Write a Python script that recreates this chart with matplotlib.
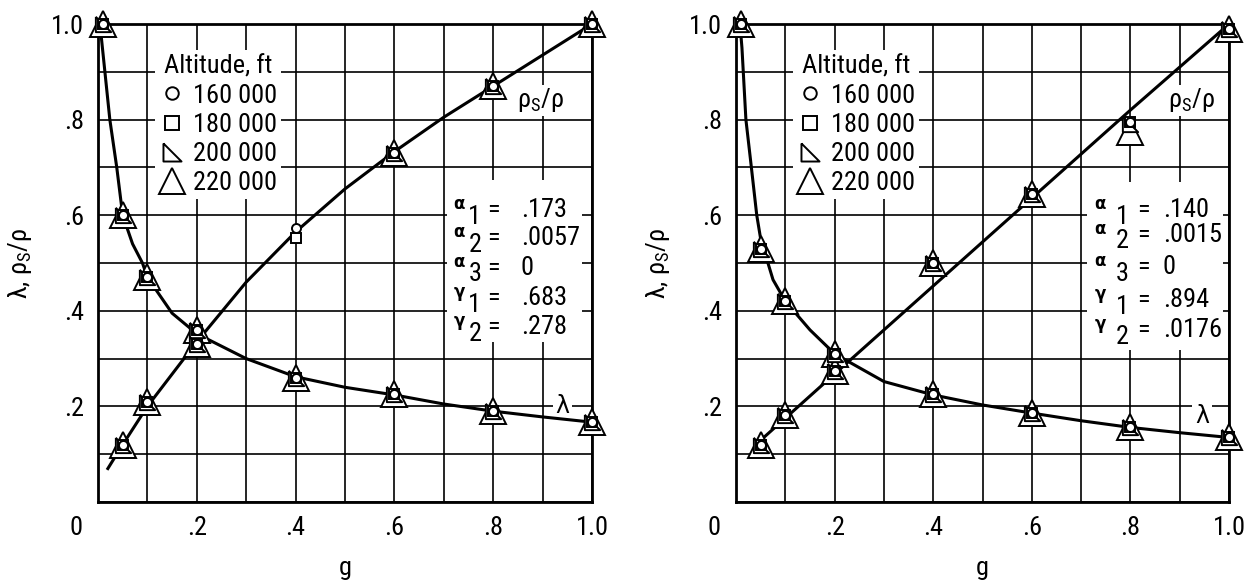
import matplotlib
matplotlib.use("Agg")
import matplotlib.pyplot as plt
from matplotlib import font_manager as fm
from matplotlib.lines import Line2D
from matplotlib.patches import Rectangle
import numpy as np

# pick the narrowest installed family (the original lettering is condensed)
_installed = {f.name: f for f in fm.fontManager.ttflist}
_narrow = [f.name for f in fm.fontManager.ttflist
           if f.stretch in ("condensed", "semi-condensed", "extra-condensed",
                            "ultra-condensed", 600, 500) or "Narrow" in f.name
           or "Condensed" in f.name]
BASE = None
for cand in ["Liberation Sans Narrow", "DejaVu Sans Condensed",
             "Noto Sans Condensed", "Roboto Condensed", "Open Sans Condensed"]:
    if cand in _installed:
        BASE = cand
        break
STRETCH = "normal"
if BASE is None and _narrow:
    BASE = _narrow[0]
    STRETCH = "condensed"
if BASE is None:
    BASE = "Roboto"
NARROW = BASE != "Roboto"
FS = 19 if NARROW else 16

plt.rcParams["font.family"] = [BASE, "DejaVu Sans"]
plt.rcParams["font.stretch"] = STRETCH
plt.rcParams["mathtext.fontset"] = "custom"
plt.rcParams["mathtext.rm"] = BASE
plt.rcParams["mathtext.it"] = BASE
plt.rcParams["mathtext.default"] = "regular"

altitudes = ["160 000", "180 000", "200 000", "220 000"]

# ---- left panel: data points (same for every altitude unless noted)
left_g_lam = [0.01, 0.05, 0.1, 0.2, 0.4, 0.6, 0.8, 1.0]
left_lam = [1.0, 0.60, 0.47, 0.36, 0.26, 0.225, 0.19, 0.167]
left_g_rho = [0.05, 0.1, 0.2, 0.4, 0.6, 0.8, 1.0]
left_rho_160 = [0.12, 0.21, 0.33, 0.573, 0.73, 0.87, 1.0]
left_rho_180 = [0.12, 0.21, 0.33, 0.553, 0.73, 0.87, 1.0]
left_rho_200 = [0.12, 0.21, 0.33, np.nan, 0.73, 0.87, 1.0]
left_rho_220 = [0.12, 0.21, 0.33, np.nan, 0.73, 0.87, 1.0]

# left panel faired curves
left_lam_curve_g = [0.005, 0.014, 0.024, 0.038, 0.05, 0.07, 0.09, 0.1, 0.15,
                    0.2, 0.3, 0.4, 0.5, 0.6, 0.7, 0.8, 0.9, 1.0]
left_lam_curve = [0.99, 0.9, 0.8, 0.7, 0.6, 0.54, 0.5, 0.47, 0.395,
                  0.352, 0.30, 0.262, 0.24, 0.224, 0.205, 0.19, 0.178, 0.167]
left_rho_curve_g = [0.02, 0.05, 0.1, 0.2, 0.3, 0.4, 0.5, 0.6, 0.7, 0.8, 0.9, 1.0]
left_rho_curve = [0.07, 0.12, 0.2, 0.335, 0.46, 0.565, 0.655, 0.733, 0.805,
                  0.87, 0.935, 1.0]

# ---- right panel
right_g_lam = [0.01, 0.05, 0.1, 0.2, 0.4, 0.6, 0.8, 1.0]
right_lam = [1.0, 0.53, 0.42, 0.31, 0.225, 0.186, 0.157, 0.136]
right_g_rho = [0.05, 0.1, 0.2, 0.4, 0.6, 0.8, 1.0]
right_rho_160 = [0.12, 0.182, 0.275, 0.50, 0.645, 0.795, 0.99]
right_rho_180 = [0.12, 0.182, 0.275, 0.50, 0.645, 0.795, 0.99]
right_rho_200 = [0.12, 0.182, 0.275, 0.50, 0.645, 0.79, 0.99]
right_rho_220 = [0.12, 0.182, 0.275, 0.50, 0.645, 0.775, 0.99]

right_lam_curve_g = [0.008, 0.012, 0.02, 0.03, 0.042, 0.05, 0.075, 0.1, 0.15,
                     0.2, 0.3, 0.4, 0.5, 0.6, 0.7, 0.8, 0.9, 1.0]
right_lam_curve = [1.0, 0.95, 0.8, 0.71, 0.6, 0.55, 0.465, 0.42, 0.36,
                   0.31, 0.252, 0.224, 0.203, 0.186, 0.17, 0.156, 0.145, 0.135]
right_rho_curve_g = [0.04, 0.2, 0.4, 0.6, 0.8, 1.0]
right_rho_curve = [0.12, 0.268, 0.452, 0.636, 0.82, 1.0]

coef_names = ["\u03b1", "\u03b1", "\u03b1", "\u03b3", "\u03b3"]
coef_index = ["1", "2", "3", "1", "2"]
left_coef_vals = [".173", ".0057", "0", ".683", ".278"]
right_coef_vals = [".140", ".0015", "0", ".894", ".0176"]

x_ticklabels = ["", "", ".2", "", ".4", "", ".6", "", ".8", "", "1.0"]
y_ticklabels = ["", "", ".2", "", ".4", "", ".6", "", ".8", "", "1.0"]

RTRI = [(-1, 1), (-1, -1), (1, -1), (-1, 1)]
# (marker, size on the plot, size in the key)
MARKERS = [("o", 6.5, 9), ("s", 7.5, 10), (RTRI, 11, 13), ("^", 19, 19)]


def draw_panel(ax, g_lam, lam, g_rho, rho_sets, lam_cg, lam_c, rho_cg, rho_c,
               coef_vals, coef_rows, coef_x, lam_lbl, rho_lbl, box):
    ax.set_xlim(0, 1)
    ax.set_ylim(0, 1)
    ticks = np.linspace(0, 1, 11)
    ax.set_xticks(ticks)
    ax.set_yticks(ticks)
    ax.set_xticklabels(x_ticklabels, fontsize=FS)
    ax.set_yticklabels(y_ticklabels, fontsize=FS)
    ax.tick_params(length=0, pad=10)
    ax.set_axisbelow(True)
    ax.grid(True, color="black", linewidth=1.2)
    for sp in ax.spines.values():
        sp.set_linewidth(2.0)
        sp.set_zorder(2.5)

    ax.plot(lam_cg, lam_c, color="black", lw=2.2, zorder=2, clip_on=False)
    ax.plot(rho_cg, rho_c, color="black", lw=2.2, zorder=2, clip_on=False)

    # draw big triangle first so the smaller symbols sit on top
    for k in [3, 2, 1, 0]:
        m, ms, _ = MARKERS[k]
        ax.plot(g_lam, lam, linestyle="none", marker=m, ms=ms, mfc="white",
                mec="black", mew=1.4, zorder=3 + (3 - k) * 0.1, clip_on=False)
        ax.plot(g_rho, rho_sets[k], linestyle="none", marker=m, ms=ms,
                mfc="white", mec="black", mew=1.4, zorder=3 + (3 - k) * 0.1,
                clip_on=False)

    handles = [Line2D([], [], linestyle="none", marker=m, ms=ks, mfc="white",
                      mec="black", mew=1.4) for m, _, ks in MARKERS]
    leg = ax.legend(handles, altitudes, title="Altitude, ft", loc="upper left",
                    bbox_to_anchor=(0.115, 0.945), fontsize=FS, title_fontsize=FS,
                    handlelength=1.0, handletextpad=0.3, labelspacing=0.2,
                    borderpad=0.15, borderaxespad=0, fancybox=False,
                    frameon=True, edgecolor="none", facecolor="white",
                    framealpha=1)
    leg.set_zorder(4)

    # white block behind the constants
    ax.add_patch(Rectangle((box[0], box[1]), box[2], box[3], facecolor="white",
                           edgecolor="none", zorder=1))
    gx, ix, ex, vx = coef_x
    for name, idx, val, y in zip(coef_names, coef_index, coef_vals, coef_rows):
        ax.text(gx, y + 0.012, name, fontsize=12, fontweight="bold",
                ha="center", va="center", transform=ax.transAxes,
                family=["DejaVu Sans"], zorder=5)
        ax.text(ix, y - 0.014, idx, fontsize=FS, ha="center", va="center",
                transform=ax.transAxes, zorder=5)
        ax.text(ex, y, "=", fontsize=FS, ha="center", va="center",
                transform=ax.transAxes, zorder=5)
        ax.text(vx, y, val, fontsize=FS, ha="left", va="center",
                transform=ax.transAxes, zorder=5)

    ax.text(rho_lbl[0], rho_lbl[1], r"$\rho_S/\rho$", fontsize=FS,
            ha="center", va="center", transform=ax.transAxes, zorder=5,
            bbox=dict(facecolor="white", edgecolor="none", pad=1))
    ax.text(lam_lbl[0], lam_lbl[1], "\u03bb", fontsize=FS - 2,
            ha="center", va="center", transform=ax.transAxes, zorder=1.5,
            family=["DejaVu Sans"],
            bbox=dict(facecolor="white", edgecolor="none", pad=2))

    ax.text(-0.045, -0.054, "0", fontsize=FS, ha="center", va="center",
            transform=ax.transAxes)
    ax.set_xlabel("g", fontsize=FS)
    ax.xaxis.set_label_coords(0.5, -0.112)
    ax.set_ylabel(r"$\lambda$, $\rho_S/\rho$", fontsize=FS)
    ax.yaxis.set_label_coords(-0.13, 0.5)


fig = plt.figure(figsize=(12.45, 5.87), dpi=100)
ax1 = fig.add_axes([0.0787, 0.1448, 0.3968, 0.8143])
ax2 = fig.add_axes([0.5912, 0.1448, 0.3960, 0.8143])

draw_panel(ax1, left_g_lam, left_lam, left_g_rho,
           [left_rho_160, left_rho_180, left_rho_200, left_rho_220],
           left_lam_curve_g, left_lam_curve, left_rho_curve_g, left_rho_curve,
           left_coef_vals, [0.611, 0.552, 0.490, 0.427, 0.366],
           (0.731, 0.763, 0.80, 0.856), (0.94, 0.2), (0.895, 0.84),
           (0.706, 0.335, 0.274, 0.339))
draw_panel(ax2, right_g_lam, right_lam, right_g_rho,
           [right_rho_160, right_rho_180, right_rho_200, right_rho_220],
           right_lam_curve_g, right_lam_curve, right_rho_curve_g, right_rho_curve,
           right_coef_vals, [0.611, 0.559, 0.492, 0.423, 0.360],
           (0.738, 0.783, 0.826, 0.866), (0.945, 0.18), (0.925, 0.84),
           (0.712, 0.318, 0.276, 0.351))

fig.savefig("out.png", dpi=100)
